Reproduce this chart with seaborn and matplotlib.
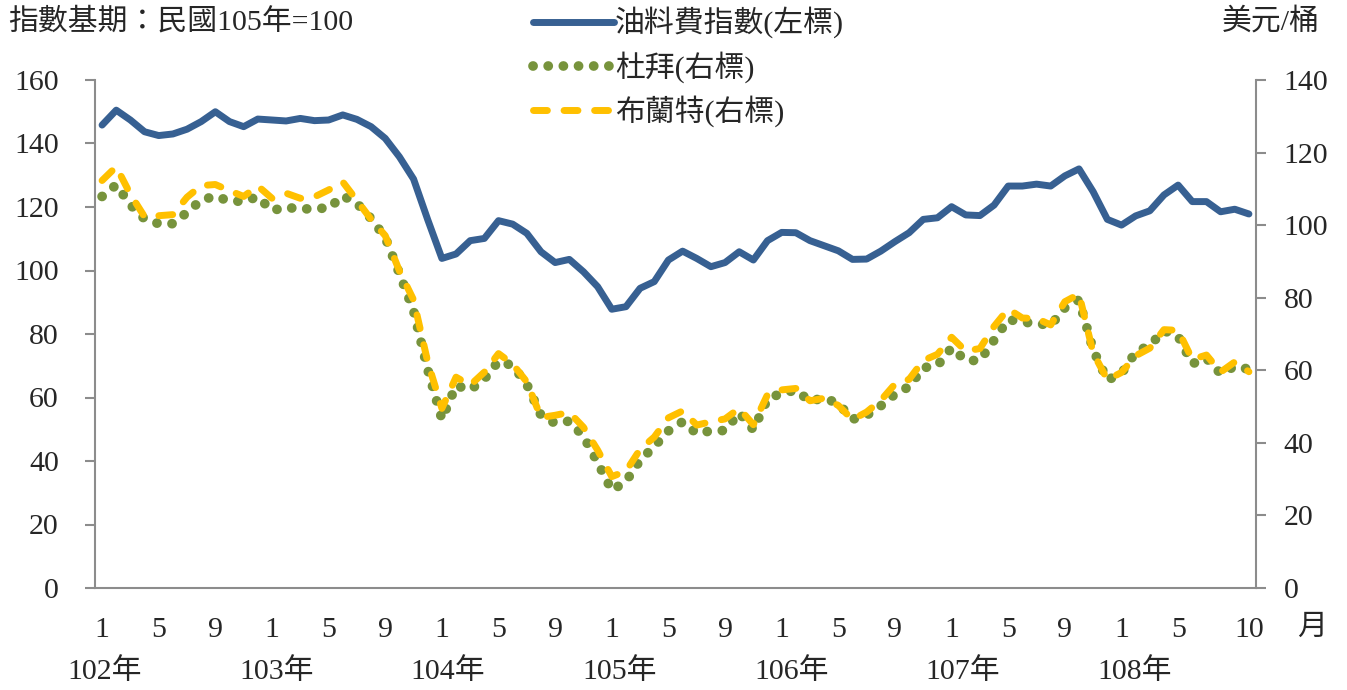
"""油料費指數 vs 杜拜 / 布蘭特 原油價格 (102年1月 - 108年10月)."""
import matplotlib
matplotlib.use('Agg')
import matplotlib.pyplot as plt
import seaborn as sns
import pandas as pd

# 油料費指數 (左標), 民國105年=100
fuel_index = [145.8, 150.5, 147.4, 143.7, 142.5, 143.0, 144.5, 146.9, 150.0, 146.9, 145.3, 147.7,
              147.4, 147.1, 147.9, 147.2, 147.4, 149.0, 147.6, 145.3, 141.6, 135.8, 128.8, 116.0,
              103.8, 105.2, 109.4, 110.1, 115.7, 114.6, 111.7, 105.9, 102.5, 103.5, 99.6, 94.9,
              87.8, 88.6, 94.4, 96.5, 103.3, 106.1, 103.8, 101.2, 102.5, 105.9, 103.3, 109.4,
              112.0, 111.9, 109.4, 107.8, 106.2, 103.5, 103.6, 106.1, 109.1, 111.9, 116.1, 116.6,
              120.1, 117.5, 117.3, 120.6, 126.6, 126.6, 127.2, 126.6, 129.8, 132.0, 124.8, 116.1,
              114.3, 117.2, 118.8, 123.8, 126.9, 121.7, 121.7, 118.5, 119.3, 117.8]

# 杜拜 (右標), 美元/桶
dubai = [107.9, 111.1, 105.6, 101.7, 100.4, 100.4, 103.5, 106.9, 108.0, 106.6, 106.6, 107.8,
         104.0, 105.0, 104.3, 104.7, 104.6, 108.1, 106.0, 101.8, 96.6, 86.7, 76.4, 60.2,
         46.5, 55.8, 54.6, 57.6, 62.5, 61.3, 56.1, 47.6, 45.4, 46.0, 41.8, 34.6,
         26.9, 29.4, 35.2, 39.0, 43.3, 45.8, 42.6, 43.3, 43.4, 48.3, 43.6, 52.1,
         53.7, 54.5, 51.5, 52.4, 50.8, 46.5, 47.6, 50.2, 53.4, 55.5, 60.7, 61.3,
         66.2, 62.7, 62.7, 68.3, 74.0, 73.3, 72.9, 72.4, 77.2, 79.4, 65.6, 57.3,
         59.1, 65.0, 66.9, 70.9, 69.4, 61.8, 63.3, 59.1, 61.1, 60.3]

# 布蘭特 (右標), 美元/桶
brent = [112.3, 116.1, 108.5, 102.3, 102.6, 102.9, 107.7, 110.9, 111.2, 109.5, 107.9, 110.8,
         107.4, 108.8, 107.4, 107.8, 109.7, 111.9, 106.8, 101.6, 97.1, 87.4, 79.4, 62.3,
         49.5, 58.1, 55.9, 59.5, 64.6, 61.7, 56.8, 47.0, 47.6, 48.4, 44.3, 38.0,
         30.7, 32.2, 38.2, 41.6, 46.9, 48.8, 44.9, 45.8, 46.6, 49.5, 45.0, 53.3,
         54.6, 55.0, 51.6, 52.3, 50.3, 46.4, 48.5, 51.7, 56.2, 57.5, 62.7, 64.4,
         69.1, 65.3, 66.0, 72.1, 76.9, 74.4, 74.3, 72.5, 78.9, 81.0, 64.8, 57.4,
         59.4, 64.0, 66.1, 71.2, 71.0, 63.0, 64.2, 59.5, 62.3, 59.6]

years = ['102年', '103年', '104年', '105年', '106年', '107年', '108年']
month_ticks = [1, 5, 9]

n = len(fuel_index)
df = pd.DataFrame({'t': range(n), 'index': fuel_index, 'dubai': dubai, 'brent': brent})

sns.set_style('white')
fonts = ['Liberation Serif', 'Noto Sans CJK TC']
plt.rcParams['font.family'] = fonts
FS = 21.5

BLUE = '#376092'
GREEN = '#77933C'
GOLD = '#FFC000'
GRAY = '#8C8C8C'

fig = plt.figure(figsize=(13.47, 6.9), dpi=100)
ax = fig.add_axes([95 / 1347, 1 - 588 / 690, 1161 / 1347, 508 / 690])
ax2 = ax.twinx()

sns.lineplot(data=df, x='t', y='index', ax=ax, color=BLUE, linewidth=5,
             solid_capstyle='round', label='油料費指數(左標)', legend=False)
sns.lineplot(data=df, x='t', y='dubai', ax=ax2, color=GREEN, linewidth=7,
             linestyle=(0, (0.01, 1.55)), dash_capstyle='round',
             label='杜拜(右標)', legend=False)
sns.lineplot(data=df, x='t', y='brent', ax=ax2, color=GOLD, linewidth=5,
             linestyle=(0, (2.0, 2.4)), dash_capstyle='round',
             label='布蘭特(右標)', legend=False)

ax.set_xlim(-0.5, n - 0.5)
ax.set_ylim(0, 160)
ax2.set_ylim(0, 140)
ax.set_yticks(range(0, 161, 20))
ax2.set_yticks(range(0, 141, 20))
ax.set_xlabel('')
ax.set_ylabel('')
ax2.set_ylabel('')

# x ticks: months 1, 5, 9 of each year; the last year ends at month 10
xt = [i for i in range(n) if (i % 12) + 1 in month_ticks and i < n - 4] + [n - 1]
ax.set_xticks(xt)
ax.set_xticklabels([str((i % 12) + 1) for i in xt])

for a in (ax, ax2):
    a.grid(False)
    a.spines['top'].set_visible(False)
    for s in ('left', 'right', 'bottom'):
        a.spines[s].set_color(GRAY)
        a.spines[s].set_linewidth(1.5)
ax.spines['right'].set_visible(False)
ax2.spines['left'].set_visible(False)
ax2.spines['bottom'].set_visible(False)

ax.tick_params(axis='y', direction='out', length=7, width=1.5, color=GRAY, pad=19, labelsize=FS)
ax2.tick_params(axis='y', direction='out', length=7, width=1.5, color=GRAY, pad=13, labelsize=FS)
ax.tick_params(axis='x', length=0, pad=21, labelsize=FS)

# year labels under the month ticks
for k, yr in enumerate(years):
    ax.text(k * 12 + 0.2 + k * 0.12, -(672 - 588) / 508, yr, transform=ax.get_xaxis_transform(),
            ha='center', va='center', fontsize=FS, family=fonts)

fig.text(1312 / 1347, 1 - 628 / 690, '月', ha='center', va='center', fontsize=FS, family=fonts)
fig.text(8 / 1347, 1 - 22 / 690, '指數基期：民國105年=100', ha='left', va='center',
         fontsize=FS, family=fonts)
fig.text(1320 / 1347, 1 - 22 / 690, '美元/桶', ha='right', va='center', fontsize=FS, family=fonts)

h1, l1 = ax.get_legend_handles_labels()
h2, l2 = ax2.get_legend_handles_labels()
fig.legend(h1 + h2, l1 + l2, loc='upper left', bbox_to_anchor=(518 / 1347, 1.012),
           frameon=False, fontsize=FS, handlelength=2.7, handletextpad=0.05,
           labelspacing=0.42, borderaxespad=0.1)

fig.savefig('out.png', dpi=100)
